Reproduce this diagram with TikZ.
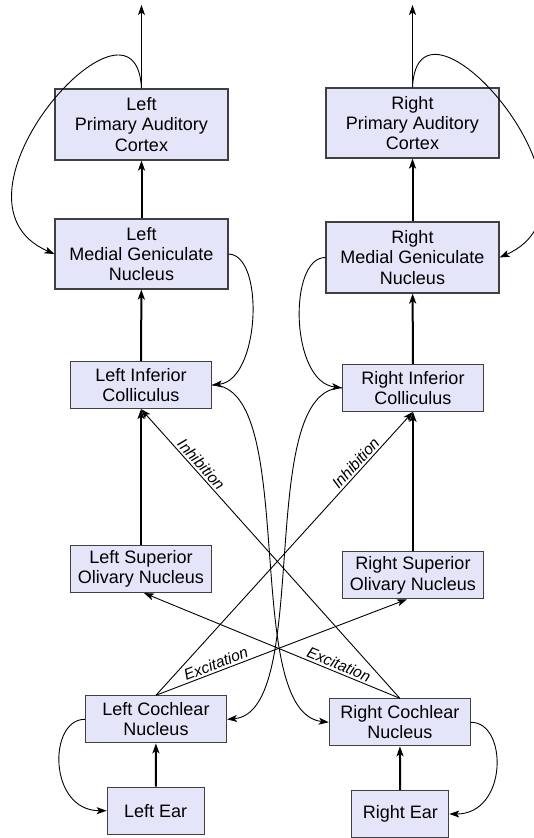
\documentclass[tikz,border=0pt]{standalone}
\usepackage{fontspec}
\setmainfont{Liberation Sans}
\usetikzlibrary{arrows.meta}
\definecolor{boxfill}{RGB}{229,229,250}
\definecolor{boxline}{RGB}{64,64,64}
\begin{document}
\begin{tikzpicture}[x=1pt,y=-1pt,
  area/.style={draw=boxline, fill=boxfill, line width=1.1pt, align=center,
    inner sep=0pt, font=\fontsize{18}{20.3}\selectfont},
  tip/.style={-{Stealth[length=10pt,width=7pt,inset=2.5pt]}},
  thin/.style={tip, line width=0.9pt},
  main/.style={tip, line width=2pt},
  lbl/.style={font=\fontsize{15.5}{17}\selectfont\itshape, sloped, above, inner sep=2pt}]
\useasboundingbox (0,0) rectangle (534,838);

% left pathway
\node[area, minimum width=173pt, minimum height=71pt] (lpac) at (141.5,124.5) {Left\\Primary Auditory\\Cortex};
\node[area, minimum width=173pt, minimum height=70pt] (lmgn) at (141.5,254) {Left\\Medial Geniculate\\Nucleus};
\node[area, minimum width=141pt, minimum height=47pt] (lic) at (141,385) {Left Inferior\\Colliculus};
\node[area, minimum width=141pt, minimum height=47pt] (lson) at (141,569) {Left Superior\\Olivary Nucleus};
\node[area, minimum width=141pt, minimum height=47pt] (lcn) at (156,719.3) {Left Cochlear\\Nucleus};
\node[area, minimum width=97pt, minimum height=47pt] (lear) at (155.7,810.7) {Left Ear};

% right pathway
\node[area, minimum width=173pt, minimum height=70pt] (rpac) at (412.5,123) {Right\\Primary Auditory\\Cortex};
\node[area, minimum width=173pt, minimum height=71pt] (rmgn) at (412.5,257.5) {Right\\Medial Geniculate\\Nucleus};
\node[area, minimum width=141pt, minimum height=47pt] (ric) at (413,387.8) {Right Inferior\\Colliculus};
\node[area, minimum width=141pt, minimum height=47pt] (rson) at (413,575.2) {Right Superior\\Olivary Nucleus};
\node[area, minimum width=141pt, minimum height=47pt] (rcn) at (399.8,722.3) {Right Cochlear\\Nucleus};
\node[area, minimum width=97pt, minimum height=47pt] (rear) at (400.3,814) {Right Ear};

\coordinate (lout) at (141.5,5);
\coordinate (rout) at (412.5,5);

% ascending pathway
\draw[main] (lear) -- (lcn);
\draw[main] (lson) -- (lic);
\draw[main] (lic) -- (lmgn);
\draw[main] (lmgn) -- (lpac);
\draw[main] (rear) -- (rcn);
\draw[main] (rson) -- (ric);
\draw[main] (ric) -- (rmgn);
\draw[main] (rmgn) -- (rpac);
\draw[thin] (lpac.north) -- (lout);
\draw[thin] (rpac.north) -- (rout);

% descending loops
\draw[thin] (lpac.north) .. controls (136,-30) and (-70,200) .. (lmgn.west);
\draw[thin] (rpac.north) .. controls (417.5,-31) and (624,203) .. (rmgn.east);
\draw[thin] (lmgn.east) .. controls (265,255) and (260,380) .. (lic.east);
\draw[thin] (rmgn.west) .. controls (288,257) and (290,382) .. (ric.west);
\draw[thin] (lic.east) .. controls (300,385) and (240,712) .. (rcn.west);
\draw[thin] (ric.west) .. controls (253.6,388) and (313.6,712) .. (lcn.east);
\draw[thin] (lcn.west) .. controls (48,719) and (48,810.7) .. (lear.west);
\draw[thin] (rcn.east) .. controls (508,722) and (508,814) .. (rear.east);

% crossed connections
\draw[thin] (lcn.north) -- node[lbl, pos=0.80] {Inhibition} (ric.south);
\draw[thin] (rcn.north) -- node[lbl, pos=0.79] {Inhibition} (lic.south);
\draw[thin] (lcn.north) -- node[lbl, pos=0.25] {Excitation} ([xshift=-6pt]rson.south);
\draw[thin] (rcn.north) -- node[lbl, pos=0.25] {Excitation} ([xshift=3pt]lson.south);
\end{tikzpicture}
\end{document}
